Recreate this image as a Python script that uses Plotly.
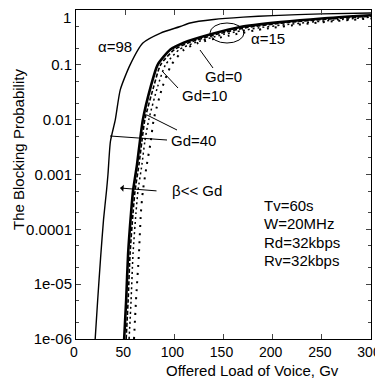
import plotly.graph_objects as go

# ---- data ----
gv_a98 = [19.5, 22, 25, 28, 31, 32.5, 35, 40, 45, 55, 68, 86, 106, 116, 140, 170, 200, 250, 300]
p_a98 = [1e-6, 5e-6, 3e-5, 1.5e-4, 5e-4, 1e-3, 4e-3, 1e-2, 3.5e-2, 0.1, 0.25, 0.38, 0.5, 0.58, 0.67, 0.74, 0.79, 0.85, 0.88]

gv_a15_solid = [49, 51, 53, 56, 58, 62, 65, 68, 76, 83, 96, 109, 137, 167, 208, 250, 300]
p_a15_solid = [1e-6, 5e-6, 3.6e-5, 2e-4, 5e-4, 1.5e-3, 4e-3, 1e-2, 4e-2, 0.1, 0.19, 0.25, 0.36, 0.49, 0.6, 0.7, 0.8]

gv_a15_dash = [51, 53, 55, 58, 60, 64, 67, 70, 79, 86, 100, 114, 143, 174, 215, 255, 300]
p_a15_dash = [1e-6, 5e-6, 3.6e-5, 2e-4, 5e-4, 1.5e-3, 4e-3, 1e-2, 4e-2, 0.1, 0.19, 0.25, 0.36, 0.48, 0.59, 0.68, 0.77]

gv_a15_dot = [54, 56, 58, 61, 63, 67, 70, 74, 83, 91, 105, 120, 150, 185, 225, 265, 300]
p_a15_dot = [1e-6, 5e-6, 3.6e-5, 2e-4, 5e-4, 1.5e-3, 4e-3, 1e-2, 4e-2, 0.1, 0.19, 0.25, 0.36, 0.47, 0.57, 0.66, 0.74]

gv_a15_sparse = [59, 61, 64, 66, 68, 72, 76, 79, 88, 97, 110, 124, 155, 190, 230, 265, 300]
p_a15_sparse = [1e-6, 5e-6, 3.6e-5, 2e-4, 5e-4, 1.5e-3, 4e-3, 1e-2, 4e-2, 0.1, 0.19, 0.25, 0.34, 0.45, 0.55, 0.63, 0.7]

x_ticks = [0, 50, 100, 150, 200, 250, 300]
y_ticks = [1, 0.1, 0.01, 0.001, 0.0001, 1e-05, 1e-06]
y_tick_text = ["", "0.1", "0.01", "0.001", "0.0001", "1e-05", "1e-06"]
y_top_label = "1"
y_minor = [5e-1, 2e-1, 5e-2, 2e-2, 5e-3, 2e-3, 5e-4, 2e-4, 5e-5, 2e-5, 5e-6, 2e-6]

FONT = "Liberation Sans, Arial, sans-serif"
FS = 15

fig = go.Figure()
fig.add_trace(go.Scatter(x=gv_a98, y=p_a98, mode="lines", name="alpha=98",
                         line=dict(color="black", width=1.4, shape="spline", smoothing=0.6)))
fig.add_trace(go.Scatter(x=gv_a15_solid, y=p_a15_solid, mode="lines", name="alpha=15 solid",
                         line=dict(color="black", width=2.6, shape="spline", smoothing=0.6)))
fig.add_trace(go.Scatter(x=gv_a15_dash, y=p_a15_dash, mode="lines", name="alpha=15 dash",
                         line=dict(color="black", width=1.6, dash="4px,2px", shape="spline", smoothing=0.6)))
fig.add_trace(go.Scatter(x=gv_a15_dot, y=p_a15_dot, mode="lines", name="alpha=15 dot",
                         line=dict(color="black", width=1.5, dash="2px,3px", shape="spline", smoothing=0.6)))
fig.add_trace(go.Scatter(x=gv_a15_sparse, y=p_a15_sparse, mode="lines", name="alpha=15 sparse dot",
                         line=dict(color="black", width=2, dash="2px,6px", shape="spline", smoothing=0.6)))

# page offset (body margin) compensation
OFF = 8
# desired plot box in screen pixels: left 76, right 371, top 10, bottom 339
SL, SR, ST, SB = 76, 371, 10, 339
L, T = SL - OFF, ST - OFF
pw, ph = SR - SL, SB - ST
R, B = 20, 50
W, H = L + pw + R, T + ph + B


def px(xs):
    return (xs - SL) / pw


def py(ys):
    return (SB - ys) / ph


shapes = []
for (x0, y0, x1, y1) in [(200, 50, 213, 68), (163, 72, 178, 88), (147, 115, 177, 130), (110, 136, 167, 140)]:
    shapes.append(dict(type="line", xref="paper", yref="paper", x0=px(x0), y0=py(y0), x1=px(x1), y1=py(y1),
                       line=dict(color="black", width=1)))
shapes.append(dict(type="circle", xref="paper", yref="paper", x0=px(210), x1=px(244), y0=py(43), y1=py(23),
                   line=dict(color="black", width=1)))

ann = []


def label(text, xs, ys, anchor="center", yanchor="middle"):
    ann.append(dict(text=text, xref="paper", yref="paper", x=px(xs), y=py(ys), showarrow=False,
                    xanchor=anchor, yanchor=yanchor, font=dict(family=FONT, size=FS, color="black")))


label("α=98", 115, 47)
label("α=15", 268, 38)
label("Gd=0", 223, 77)
label("Gd=10", 204, 95)
label("Gd=40", 193, 140)
label("β<< Gd", 197, 190)
label("Tv=60s", 262, 205, "left")
label("W=20MHz", 262, 223, "left")
label("Rd=32kbps", 262, 242, "left")
label("Rv=32kbps", 262, 260, "left")
# top y tick label (kept visible at the page edge)
label(y_top_label, 73, 7, "right", "top")

# beta arrow
ann.append(dict(text="", xref="paper", yref="paper", x=px(120), y=py(188), ax=38, ay=3,
                showarrow=True, arrowhead=1, arrowsize=1.2, arrowwidth=1, arrowcolor="black"))

# y-axis title
ann.append(dict(text="The Blocking Probability", xref="paper", yref="paper", x=px(19), y=py(150),
                showarrow=False, textangle=-90, xanchor="center", yanchor="middle",
                font=dict(family=FONT, size=FS, color="black")))
# x-axis title
ann.append(dict(text="Offered Load of Voice, Gv", xref="paper", yref="paper", x=px(252), y=py(370),
                showarrow=False, xanchor="center", yanchor="middle",
                font=dict(family=FONT, size=FS, color="black")))

fig.update_layout(
    width=W, height=H,
    margin=dict(l=L, r=R, t=T, b=B, autoexpand=False),
    paper_bgcolor="white", plot_bgcolor="white",
    showlegend=False,
    shapes=shapes, annotations=ann,
    font=dict(family=FONT, size=FS, color="black"),
)
fig.update_xaxes(range=[0, 300], tickvals=x_ticks, ticks="inside", ticklen=5, showline=True,
                 linecolor="black", linewidth=1, mirror="ticks", showgrid=False, zeroline=False,
                 automargin=False, ticklabelshift=-2,
                 tickfont=dict(family=FONT, size=14, color="black"))
fig.update_yaxes(type="log", range=[-6, 0], tickvals=y_ticks, ticktext=y_tick_text, ticks="inside",
                 ticklen=5, showline=True, linecolor="black", linewidth=1, mirror="ticks",
                 showgrid=False, zeroline=False, automargin=False,
                 tickfont=dict(family=FONT, size=FS, color="black"),
                 minor=dict(ticks="inside", ticklen=3, tickvals=y_minor, showgrid=False))

fig.write_html("out.html", config={"displayModeBar": False})
